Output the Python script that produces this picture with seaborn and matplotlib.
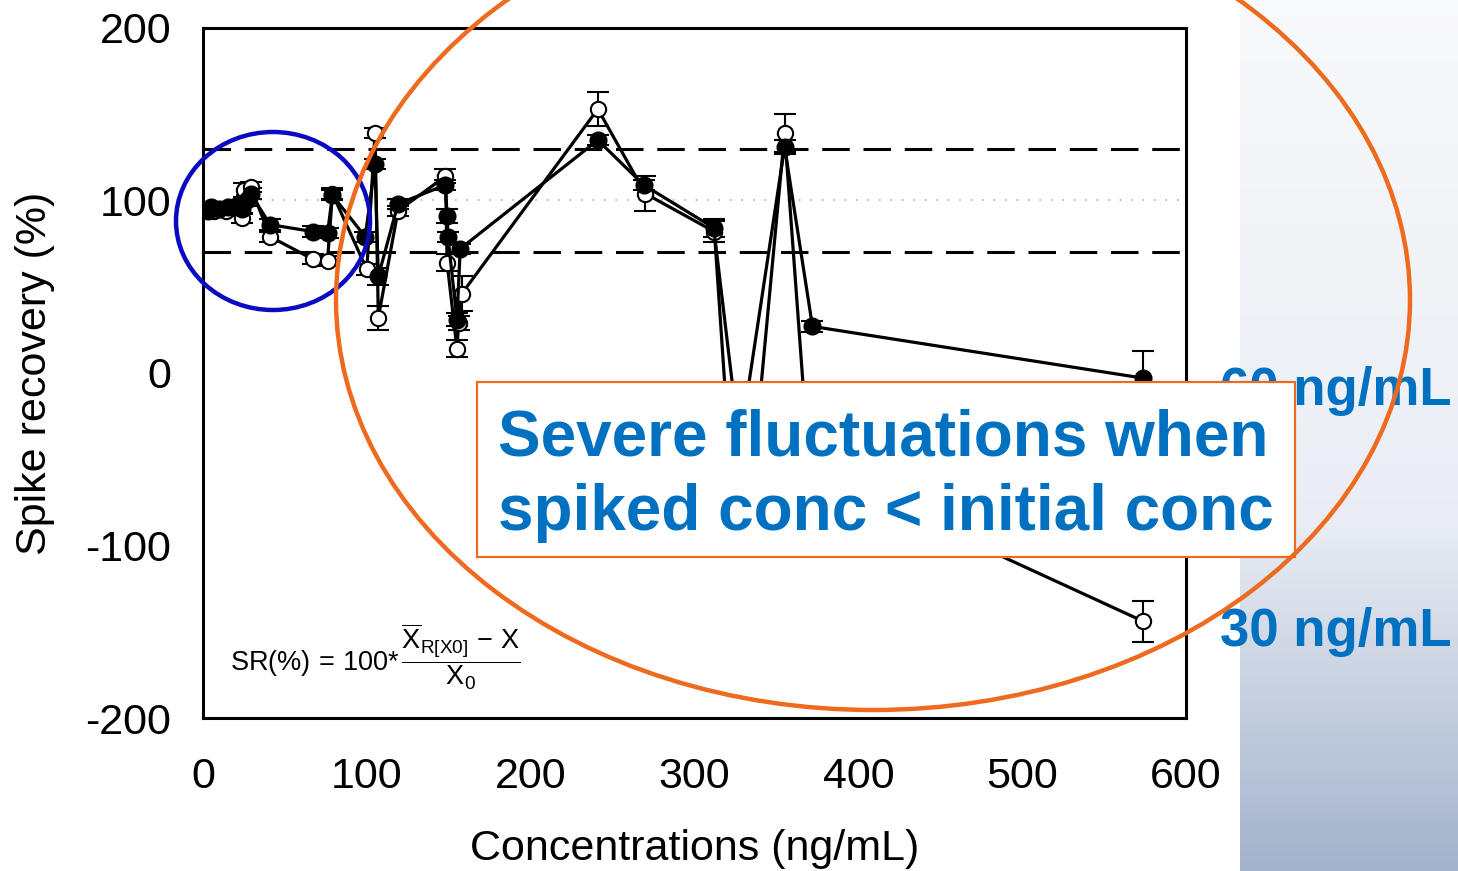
import numpy as np
import matplotlib
matplotlib.use('Agg')
import matplotlib.pyplot as plt
import seaborn as sns
import pandas as pd
from matplotlib.patches import Ellipse, Rectangle

# ---------------- data ----------------
conc_30 = [3, 7, 14, 24, 25, 29, 41, 67, 76, 79, 100, 105, 107, 119, 148, 149,
           155, 156, 158, 241, 270, 312, 333, 355, 370, 574]
rec_30 = [95, 94, 94, 90, 106, 108, 79, 66, 65, 104, 60, 139, 32, 94, 114, 64,
          14, 29, 46, 153, 104, 82, -85, 139, -55, -144]
err_30 = [3, 3, 3, 3, 4, 3, 3, 3, 3, 3, 3, 3, 7, 3, 4, 5,
          5, 4, 10, 10, 10, 6, 0, 11, 0, 12]

conc_60 = [3, 5, 10, 15, 20, 24, 27, 29, 41, 67, 76, 79, 99, 105, 107, 119,
           148, 149, 149.5, 155, 157, 241, 269, 312, 323, 355, 372, 574]
rec_60 = [94, 96, 95, 96, 97, 95, 100, 104, 86, 82, 81, 103, 79, 121, 56, 98,
          109, 91, 79, 31, 72, 135, 109, 84, -70, 131, 27, -3]
err_60 = [3, 3, 3, 3, 3, 3, 3, 3, 3, 3, 3, 3, 3, 3, 5, 3,
          3, 4, 3, 4, 3, 3, 3, 5, 0, 4, 3, 16]

limit_x = [0, 597]
upper_limit = [130, 130]
lower_limit = [70, 70]
target = [100, 100]

x_ticks = [0, 100, 200, 300, 400, 500, 600]
y_ticks = [-200, -100, 0, 100, 200]

# ---------------- style ----------------
sns.set_style('white')
plt.rcParams['font.family'] = ['Liberation Sans', 'DejaVu Sans']
plt.rcParams['mathtext.fontset'] = 'custom'
plt.rcParams['mathtext.rm'] = 'Liberation Sans'
plt.rcParams['mathtext.it'] = 'Liberation Sans'
plt.rcParams['mathtext.bf'] = 'Liberation Sans:bold'

W, H = 1458, 871
fig = plt.figure(figsize=(W / 100, H / 100), dpi=100)
fig.patch.set_facecolor('white')


def fx(x):
    return x / W


def fy(y):
    return 1 - y / H


# background gradient panel on the right
bg = fig.add_axes([fx(1240), 0, (W - 1240) / W, 1], zorder=-5)
t = np.linspace(0, 1, 300)[:, None]
top = np.array([0.975, 0.978, 0.985])
mid = np.array([0.915, 0.93, 0.955])
bot = np.array([0.64, 0.70, 0.80])
tt = t[..., None]
rgb = np.where(tt < 0.6, top + (mid - top) * (tt / 0.6),
               mid + (bot - mid) * ((tt - 0.6) / 0.4))
rgb = np.repeat(rgb, 2, axis=1)
bg.imshow(rgb, aspect='auto', extent=[0, 1, 0, 1])
bg.axis('off')

ax = fig.add_axes([fx(203), fy(718), (1186 - 203) / W, (718 - 28) / H])
ax.set_facecolor('white')

# reference lines
ax.plot(limit_x, upper_limit, color='black', lw=2.2, dashes=(9, 4.5), zorder=2)
ax.plot(limit_x, lower_limit, color='black', lw=2.2, dashes=(9, 4.5), zorder=2)
ax.plot(limit_x, target, color='#a0a0a0', lw=1.1, dashes=(1, 6.5), zorder=2)

# error bars
ax.errorbar(conc_30, rec_30, yerr=err_30, fmt='none', ecolor='black',
            elinewidth=1.5, capsize=8, capthick=1.5, zorder=2.5)
ax.errorbar(conc_60, rec_60, yerr=err_60, fmt='none', ecolor='black',
            elinewidth=1.5, capsize=8, capthick=1.5, zorder=2.6)

df30 = pd.DataFrame({'conc': conc_30, 'rec': rec_30})
df60 = pd.DataFrame({'conc': conc_60, 'rec': rec_60})
sns.lineplot(data=df30, x='conc', y='rec', sort=False, estimator=None,
             color='black', lw=2.3, marker='o', markersize=11,
             markerfacecolor='white', markeredgecolor='black',
             markeredgewidth=1.5, ax=ax, zorder=3)
sns.lineplot(data=df60, x='conc', y='rec', sort=False, estimator=None,
             color='black', lw=2.3, marker='o', markersize=11.5,
             markerfacecolor='black', markeredgecolor='black',
             markeredgewidth=1.5, ax=ax, zorder=4)

ax.set_xlim(0, 600)
ax.set_ylim(-200, 200)
ax.set_xticks(x_ticks)
ax.set_yticks(y_ticks)
ax.set_xticklabels([str(v) for v in x_ticks])
ax.set_yticklabels([str(v) for v in y_ticks])
ax.tick_params(axis='both', direction='out', length=7, width=1.6,
               labelsize=31, colors='black')
ax.tick_params(axis='y', pad=16)
ax.tick_params(axis='x', pad=21)
for s in ax.spines.values():
    s.set_linewidth(2.2)
    s.set_color('black')
ax.set_xlabel('Concentrations (ng/mL)', fontsize=31, labelpad=23, color='black')
ax.set_ylabel('Spike recovery (%)', fontsize=31, labelpad=22, color='black')

# formula
ax.text(fx(230), fy(657),
        r'SR(%)$\,=\,$100*$\,\dfrac{\overline{\mathrm{X}}_{\mathrm{R[X0]}}\,-\,\mathrm{X}}{\mathrm{X}_0}$',
        transform=fig.transFigure, fontsize=19.5, va='center', ha='left',
        color='black', zorder=6)

blue_txt = '#0070C0'
orange = '#EE6A1E'

# side labels
fig.text(fx(1220), fy(405), '60 ng/mL', fontsize=38, fontweight='bold',
         color=blue_txt, ha='left', va='baseline', zorder=1)
fig.text(fx(1220), fy(646), '30 ng/mL', fontsize=38, fontweight='bold',
         color=blue_txt, ha='left', va='baseline', zorder=1)

# annotation box
fig.add_artist(Rectangle((fx(477), fy(557)), (1295 - 477) / W, (557 - 382) / H,
                         transform=fig.transFigure, facecolor='white',
                         edgecolor=orange, lw=1.6, zorder=5))
fig.text(fx(498), fy(455), 'Severe fluctuations when', fontsize=46,
         fontweight='bold', color=blue_txt, ha='left', va='baseline', zorder=6)
fig.text(fx(498), fy(530), 'spiked conc < initial conc', fontsize=46,
         fontweight='bold', color=blue_txt, ha='left', va='baseline', zorder=6)

# highlight ellipses (positions in inches, 100 px per inch)
fig.add_artist(Ellipse((2.73, (H - 221) / 100), 1.94, 1.78,
                       transform=fig.dpi_scale_trans, fill=False,
                       edgecolor='#0A0AC0', lw=3.2, zorder=7))
fig.add_artist(Ellipse((8.73, (H - 300) / 100), 10.74, 8.20,
                       transform=fig.dpi_scale_trans, fill=False,
                       edgecolor=orange, lw=3.2, zorder=7))

fig.savefig('out.png', dpi=100)
